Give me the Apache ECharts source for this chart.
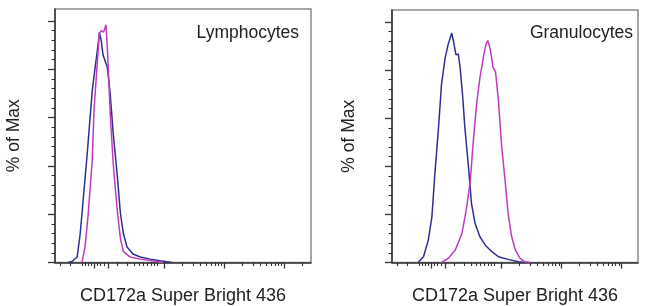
<!DOCTYPE html>
<html><head><meta charset="utf-8">
<script src="https://cdn.jsdelivr.net/npm/echarts@6/dist/echarts.min.js"></script>
<style>html,body{margin:0;padding:0;background:#fff}#c{width:650px;height:306px}</style>
</head><body><div id="c"></div>
<script>
// Panel texts
const panelTitles = ['Lymphocytes', 'Granulocytes'];
const xAxisName = 'CD172a Super Bright 436';
const yAxisName = '% of Max';

// x in display decades (10^3 -> 3, 10^4 -> 4, 10^5 -> 5), y in % of max
const lymphBlueX = [1.40,1.47,1.55,1.60,1.65,1.72,1.80,1.85,1.90,1.92,1.95,1.98,2.05,2.10,2.15,2.22,2.27,2.32,2.38,2.48,2.60,2.77,2.93,3.13];
const lymphBlueY = [0,0.5,2.3,12,26,46,71,81,90.6,95.4,92,86,81,70,53.5,35.5,20.4,12,6.4,3.5,2.3,1.4,0.7,0];
const lymphPinkX = [1.63,1.68,1.73,1.80,1.83,1.88,1.92,1.95,1.99,2.03,2.06,2.10,2.15,2.22,2.27,2.32,2.43,2.60,2.82,2.98];
const lymphPinkY = [0,6.4,19,42,63,81,95,96,95.4,98.5,85,62,41,21,10,4.5,2.3,1.4,0.6,0];
const granBlueX = [1.61,1.70,1.78,1.84,1.89,1.95,2.00,2.06,2.11,2.17,2.20,2.24,2.28,2.31,2.35,2.39,2.45,2.50,2.56,2.64,2.73,2.84,2.95,3.11,3.28,3.39];
const granBlueY = [0,2.4,9.3,19,37,56,74,85,90.6,95.4,92,86.4,86.7,81,70,56,39.6,24.5,16.2,10.7,7.2,4.5,2.4,1.3,0.3,0];
const granPinkX = [2.00,2.11,2.23,2.34,2.42,2.48,2.53,2.59,2.64,2.70,2.74,2.77,2.81,2.86,2.90,2.95,3.00,3.06,3.11,3.17,3.23,3.31,3.39,3.48];
const granPinkY = [0,1.7,5.2,12,23,34,50.6,67,76.8,85.7,90.6,92.3,89,81,79.5,67,49,34,20.3,10.7,5.2,1.7,0.3,0];

// Axis tick positions (display decades)
const xMajorTicks = [1.833, 2.067, 3, 4, 5];
const xLinearMinorTicks = [1.267,1.433,1.633,1.683,1.733,1.783,1.883,1.933,2.0,2.217,2.383,2.5,2.583,2.65,2.717,2.783,2.833,2.883];
const logMultipliers = [2,3,4,5,6,7,8,9];
const yMajorTicks = [0,20,40,60,80,100];
const yMinorStep = 4;

const xMinorTicks = xLinearMinorTicks.slice();
[3,4].forEach(d => logMultipliers.forEach(k => xMinorTicks.push(d + Math.log10(k))));
xMinorTicks.push(5 + Math.log10(2));
const yMinorTicks = [];
for (let v = yMinorStep; v < 100; v += yMinorStep) if (v % 20) yMinorTicks.push(v);

const FONT = "'Liberation Sans', Arial, sans-serif";
const TXT = '#222';
const BLUE = '#2f2e94';
const PINK = '#bf3cbd';

const grids = [
  {left: 55, top: 9, width: 256, height: 253.5, xmin: 1.18, xmax: 5.447, nameGapY: 32, titleRight: 351},
  {left: 392, top: 10, width: 246, height: 252.5, xmin: 1.175, xmax: 5.275, nameGapY: 34, titleRight: 17}
];

const zip = (xs, ys) => xs.map((x, i) => [x, ys[i]]);

const option = {
  animation: false,
  title: grids.map((g, i) => ({
    text: panelTitles[i], right: g.titleRight, top: 24, padding: 0,
    textStyle: {fontSize: 17.5, fontWeight: 'normal', color: TXT, fontFamily: FONT}
  })),
  grid: grids.map(g => ({left: g.left, top: g.top, width: g.width, height: g.height,
    outerBoundsMode: 'none', containLabel: false,
    show: true, borderColor: '#8a8a8a', borderWidth: 1.5, backgroundColor: 'transparent'})),
  xAxis: [],
  yAxis: [],
  series: []
};

grids.forEach((g, i) => {
  option.xAxis.push({
    type: 'value', gridIndex: i, position: 'bottom', min: g.xmin, max: g.xmax,
    axisLine: {show: true, onZero: false, lineStyle: {color: '#333', width: 1.5}},
    axisTick: {show: true, customValues: xMajorTicks, length: 6, lineStyle: {color: '#333', width: 1.3}},
    axisLabel: {show: false}, splitLine: {show: false},
    name: xAxisName, nameLocation: 'middle', nameGap: 25,
    nameTextStyle: {fontSize: 18, color: TXT, fontFamily: FONT}
  });
  option.xAxis.push({
    type: 'value', gridIndex: i, position: 'bottom', min: g.xmin, max: g.xmax,
    axisLine: {show: false, onZero: false},
    axisTick: {show: true, customValues: xMinorTicks, length: 3.5, lineStyle: {color: '#333', width: 1.1}},
    axisLabel: {show: false}, splitLine: {show: false}
  });
  option.yAxis.push({
    type: 'value', gridIndex: i, position: 'left', min: 0, max: 105,
    axisLine: {show: true, onZero: false, lineStyle: {color: '#333', width: 1.5}},
    axisTick: {show: true, customValues: yMajorTicks, length: 7, lineStyle: {color: '#333', width: 1.3}},
    axisLabel: {show: false}, splitLine: {show: false},
    name: yAxisName, nameLocation: 'middle', nameGap: g.nameGapY,
    nameTextStyle: {fontSize: 17.5, color: TXT, fontFamily: FONT}
  });
  option.yAxis.push({
    type: 'value', gridIndex: i, position: 'left', min: 0, max: 105,
    axisLine: {show: false, onZero: false},
    axisTick: {show: true, customValues: yMinorTicks, length: 3.5, lineStyle: {color: '#333', width: 1.1}},
    axisLabel: {show: false}, splitLine: {show: false}
  });
});

const seriesDefs = [
  {p: 0, x: lymphBlueX, y: lymphBlueY, c: BLUE},
  {p: 0, x: lymphPinkX, y: lymphPinkY, c: PINK},
  {p: 1, x: granBlueX, y: granBlueY, c: BLUE},
  {p: 1, x: granPinkX, y: granPinkY, c: PINK}
];
seriesDefs.forEach(s => option.series.push({
  type: 'line', xAxisIndex: s.p * 2, yAxisIndex: s.p * 2,
  data: zip(s.x, s.y), showSymbol: false, smooth: false,
  lineStyle: {color: s.c, width: 1.5}, z: 3
}));

const chart = echarts.init(document.getElementById('c'), null, {renderer: 'canvas'});
chart.setOption(option);
</script>
</body></html>
